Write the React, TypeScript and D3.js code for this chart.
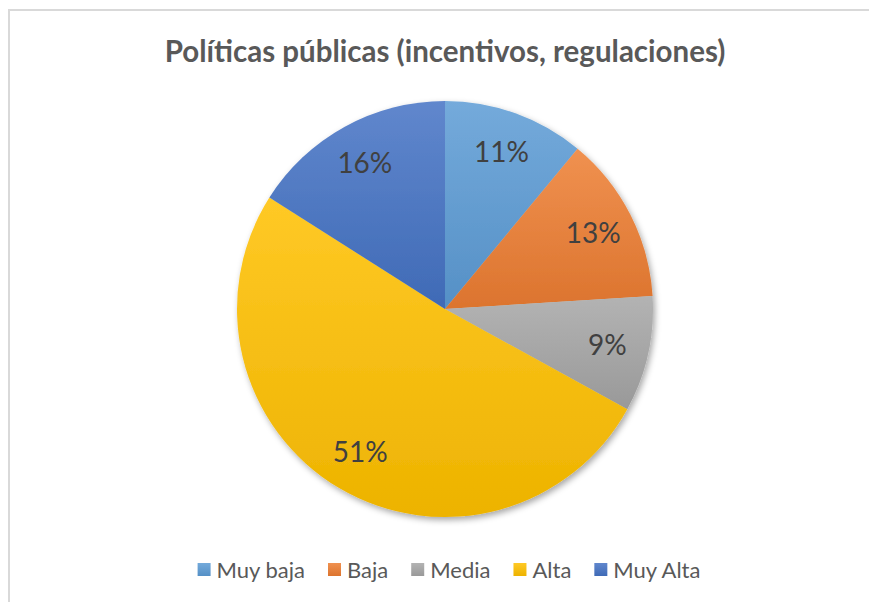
import React, { useRef, useEffect } from 'react';
import * as d3 from 'd3';

const categories = ['Muy baja', 'Baja', 'Media', 'Alta', 'Muy Alta'];
const values = [11, 13, 9, 51, 16];
const colors = ['#5B9BD5', '#ED7D31', '#A5A5A5', '#FFC000', '#4472C4'];
const title = 'Políticas públicas (incentivos, regulaciones)';

const width = 869;
const height = 602;

const App: React.FC = () => {
  const svgRef = useRef<SVGSVGElement>(null);

  useEffect(() => {
    if (!svgRef.current) return;
    const svg = d3.select(svgRef.current);
    svg.selectAll('*').remove();

    const cx = 445;
    const cy = 309;
    const radius = 208;
    const font = 'Lato, "Open Sans", sans-serif';

    const defs = svg.append('defs');
    const shadow = defs.append('filter')
      .attr('id', 'shadow')
      .attr('x', '-10%').attr('y', '-10%')
      .attr('width', '125%').attr('height', '125%');
    shadow.append('feDropShadow')
      .attr('dx', 2).attr('dy', 3)
      .attr('stdDeviation', 3)
      .attr('flood-color', '#000')
      .attr('flood-opacity', 0.35);

    colors.forEach((c, i) => {
      const grad = defs.append('linearGradient')
        .attr('id', `grad${i}`)
        .attr('x1', 0).attr('y1', 0).attr('x2', 0).attr('y2', 1);
      grad.append('stop').attr('offset', '0%')
        .attr('stop-color', d3.interpolateRgb(c, '#ffffff')(0.15));
      grad.append('stop').attr('offset', '100%')
        .attr('stop-color', d3.interpolateRgb(c, '#000000')(0.07));
    });

    // marco del gráfico
    svg.append('line')
      .attr('x1', 8).attr('x2', width).attr('y1', 10).attr('y2', 10)
      .attr('stroke', '#d9d9d9').attr('stroke-width', 2);
    svg.append('line')
      .attr('x1', 9).attr('x2', 9).attr('y1', 9).attr('y2', height)
      .attr('stroke', '#d9d9d9').attr('stroke-width', 2);

    svg.append('text')
      .attr('x', cx).attr('y', 62)
      .attr('text-anchor', 'middle')
      .attr('font-family', font)
      .attr('font-weight', 'bold')
      .attr('font-size', '29.5px')
      .attr('fill', '#595959')
      .text(title);

    const pie = d3.pie<number>().sort(null).value(d => d);
    const arcs = pie(values);
    const arc = d3.arc<d3.PieArcDatum<number>>().innerRadius(0).outerRadius(radius);
    const labelArc = d3.arc<d3.PieArcDatum<number>>().innerRadius(radius * 0.8).outerRadius(radius * 0.8);
    const total = d3.sum(values);

    const g = svg.append('g').attr('transform', `translate(${cx},${cy})`);
    const slices = g.append('g').attr('filter', 'url(#shadow)');
    slices.selectAll('path')
      .data(arcs)
      .enter()
      .append('path')
      .attr('d', arc)
      .attr('fill', (_, i) => `url(#grad${i})`);

    g.selectAll('text.label')
      .data(arcs)
      .enter()
      .append('text')
      .attr('class', 'label')
      .attr('transform', d => `translate(${labelArc.centroid(d)})`)
      .attr('text-anchor', 'middle')
      .attr('dy', '0.35em')
      .attr('font-family', font)
      .attr('font-size', '28px')
      .attr('fill', '#404040')
      .text(d => `${Math.round((d.data / total) * 100)}%`);

    // leyenda
    const legend = svg.append('g').attr('transform', 'translate(0,570)');
    const items = categories.map((name, i) => {
      const item = legend.append('g');
      item.append('rect')
        .attr('x', 0).attr('y', -7)
        .attr('width', 13).attr('height', 13)
        .attr('fill', `url(#grad${i})`);
      const t = item.append('text')
        .attr('x', 19).attr('y', 0)
        .attr('dy', '0.35em')
        .attr('font-family', font)
        .attr('font-size', '22px')
        .attr('fill', '#595959')
        .text(name);
      const w = 19 + (t.node() as SVGTextElement).getComputedTextLength();
      return { item, w };
    });
    const gap = 23;
    const totalW = d3.sum(items, d => d.w) + gap * (items.length - 1);
    let x = 449 - totalW / 2;
    items.forEach(({ item, w }) => {
      item.attr('transform', `translate(${x},0)`);
      x += w + gap;
    });
  }, []);

  return (
    <svg
      ref={svgRef}
      width={width}
      height={height}
      style={{ position: 'absolute', left: 0, top: 0, display: 'block' }}
    />
  );
};

export default App;
